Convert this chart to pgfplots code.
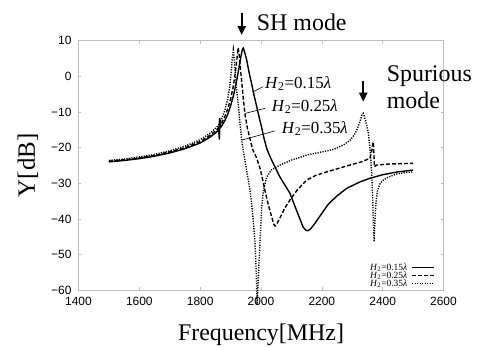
\documentclass[border=0pt]{standalone}
\usepackage{fontspec}
\setmainfont{Liberation Serif}
\setsansfont{Liberation Sans}
\usepackage{pgfplots}
\pgfplotsset{compat=1.18}
\usetikzlibrary{arrows.meta}
\definecolor{framegray}{RGB}{190,190,190}
\newcommand{\Hlab}[1]{\textit{H}\textsubscript{2}=#1\textit{λ}}
\begin{document}
\begin{tikzpicture}
\useasboundingbox (-78.5bp,-56.8bp) rectangle (399.5bp,290.2bp);
\begin{axis}[
  at={(0,0)}, anchor=south west,
  scale only axis, width=365bp, height=249.5bp,
  xmin=1400, xmax=2600, ymin=-60, ymax=10,
  xtick={1400,1600,1800,2000,2200,2400,2600},
  xticklabels={1400,1600,1800,2000,2200,2400,2600},
  ytick={-60,-50,-40,-30,-20,-10,0,10},
  yticklabels={−60,−50,−40,−30,−20,−10,0,10},
  tick align=inside,
  major tick length=3bp,
  tick style={framegray, line width=0.6bp},
  axis line style={framegray, line width=0.8bp},
  ticklabel style={font=\sffamily\fontsize{12}{12}\selectfont, text=black},
  xticklabel style={anchor=north, inner sep=0pt, yshift=-6.8bp},
  yticklabel style={anchor=east, inner sep=0pt, xshift=-6.8bp},
  clip=false,
  legend style={at={(rel axis cs:1,0)}, anchor=south east, xshift=-9bp, yshift=2bp,
    draw=none, fill=none, inner sep=0pt, row sep=-1.2bp,
    font=\fontsize{9.5}{10}\selectfont,
    nodes={inner xsep=4bp, inner ysep=0.5bp}},
  legend plot pos=right,
  legend cell align=right,
  legend image code/.code={\draw[#1] (0bp,0bp) -- (21.6bp,0bp);},
]
% H2 = 0.15 lambda (solid)
\addplot[black, line width=1.4bp, line join=round] coordinates {
(1500,-24.0) (1550,-23.6) (1600,-23.1) (1650,-22.4) (1700,-21.5) (1750,-20.3)
(1800,-18.7) (1830,-17.2) (1850,-15.9) (1860,-15.1)
(1862,-14.8) (1863,-17.6) (1864,-12.4) (1865.5,-14.5)
(1870,-14.0) (1880,-12.6) (1890,-10.8) (1900,-8.3) (1910,-5.2) (1920,-1.2)
(1928,2.6) (1934,5.6) (1939,7.6) (1942,8.0) (1947,6.5) (1953,4.6) (1961,1.0)
(1969,-2.0) (1977,-5.3) (1986,-8.5) (1994,-11.5) (2002,-14.3) (2010,-17.4)
(2019,-20.3) (2027,-22.0) (2035,-23.5) (2062,-28.2) (2095,-32.8) (2120,-38.3)
(2139,-42.4) (2148,-43.2) (2155,-43.3) (2163,-42.8) (2175,-41.5) (2194,-39.2)
(2220,-36.0) (2249,-33.6) (2282,-31.4) (2326,-29.6) (2358,-28.6) (2400,-27.6)
(2450,-26.8) (2500,-26.3)
};
\addlegendentry{\Hlab{0.15}}
% H2 = 0.25 lambda (dashed)
\addplot[black, line width=1.4bp, dash pattern=on 4bp off 2bp] coordinates {
(1500,-23.8) (1550,-23.4) (1600,-22.9) (1650,-22.2) (1700,-21.2) (1750,-20.0)
(1800,-18.3) (1830,-16.7) (1850,-15.3) (1860,-14.5)
(1862,-14.2) (1863,-17.2) (1864,-12.1) (1865.5,-13.9)
(1870,-13.2) (1880,-11.5) (1890,-9.3) (1900,-6.4) (1908,-3.2) (1915,0.6)
(1920,4.2) (1923,6.6) (1925,8.0) (1929,5.5) (1933,1.5) (1936,-1.0) (1941,-5.5)
(1947,-10.4) (1955,-14.4) (1964,-17.6) (1972,-20.4) (1985,-22.8) (1997,-25.8)
(2005,-28.8) (2013,-32.0) (2024,-36.0) (2035,-39.4) (2042,-41.5) (2046,-42.0)
(2052,-41.4) (2062,-39.8) (2078,-37.0) (2095,-34.7) (2120,-31.8) (2150,-29.1)
(2180,-27.8) (2216,-26.8) (2260,-25.7) (2292,-24.9) (2330,-24.0) (2358,-23.0)
(2364,-21.0) (2368,-18.4) (2370,-19.5) (2373,-25.4) (2380,-24.9) (2420,-24.6)
(2500,-24.4)
};
\addlegendentry{\Hlab{0.25}}
% H2 = 0.35 lambda (dotted)
\addplot[black, line width=1.4bp, dash pattern=on 1.2bp off 1.3bp] coordinates {
(1500,-23.6) (1550,-23.2) (1600,-22.6) (1650,-21.9) (1700,-20.9) (1750,-19.6)
(1800,-17.8) (1830,-16.1) (1850,-14.6) (1860,-13.8)
(1862,-13.5) (1863,-16.6) (1864,-11.6) (1865.5,-13.2)
(1870,-12.1) (1880,-9.8) (1890,-6.6) (1897,-3.0) (1902,1.0) (1905,4.5)
(1909,7.4) (1913,4.0) (1920,-3.8) (1926,-8.5) (1931,-13.2) (1938,-19.0)
(1950,-25.0) (1964,-32.0) (1972,-38.0) (1980,-46.0) (1984,-54.0) (1987,-64.0)
(1992,-55.0) (1997,-46.0) (2002,-37.0) (2008,-32.0) (2019,-28.2) (2035,-26.2)
(2062,-24.9) (2100,-23.5) (2150,-22.1) (2200,-21.2) (2238,-20.5) (2270,-19.3)
(2292,-18.0) (2305,-16.6) (2315,-15.1) (2325,-12.8) (2331,-11.0) (2336,-10.4)
(2341,-11.5) (2347,-13.5) (2353,-16.0) (2359,-21.0) (2364,-27.2) (2367,-33.5)
(2369,-39.4) (2372,-46.4) (2375,-40.0) (2378,-35.5) (2383,-32.0) (2392,-30.0)
(2402,-29.1) (2420,-28.2) (2446,-27.4) (2475,-27.0) (2501,-26.8)
};
\addlegendentry{\Hlab{0.35}}
% leader lines and curve labels
\draw[black, line width=0.6bp] (axis cs:1975,-4.3) -- (axis cs:2007,-2.9);
\draw[black, line width=0.6bp] (axis cs:1947,-10.4) -- (axis cs:2013,-9.0);
\draw[black, line width=0.6bp] (axis cs:1936,-17.9) -- (axis cs:2046,-15.3);
\node[anchor=west, inner sep=0pt, font=\fontsize{17}{17}\selectfont] at (axis cs:2013,-2.0) {\Hlab{0.15}};
\node[anchor=west, inner sep=0pt, font=\fontsize{17}{17}\selectfont] at (axis cs:2035,-8.5) {\Hlab{0.25}};
\node[anchor=west, inner sep=0pt, font=\fontsize{17}{17}\selectfont] at (axis cs:2068,-14.6) {\Hlab{0.35}};
% mode annotations
\draw[black, line width=2.2bp, -{Triangle[width=8bp,length=9bp]}] (axis cs:1936.5,17.9) -- (axis cs:1936.5,11.6);
\node[anchor=base west, inner sep=0pt, font=\fontsize{24}{24}\selectfont] at (axis cs:1986,13.0) {SH mode};
\draw[black, line width=2.2bp, -{Triangle[width=8bp,length=9bp]}] (axis cs:2336,-1.3) -- (axis cs:2336,-7.1);
\node[anchor=base west, inner sep=0pt, font=\fontsize{24}{24}\selectfont] at (axis cs:2413,-1.5) {Spurious};
\node[anchor=base west, inner sep=0pt, font=\fontsize{24}{24}\selectfont] at (axis cs:2413,-9.0) {mode};
% axis labels
\node[anchor=base, inner sep=0pt, font=\fontsize{24}{24}\selectfont] at ([yshift=-50bp]rel axis cs:0.5,0) {Frequency[MHz]};
\node[anchor=base, rotate=90, inner sep=0pt, font=\fontsize{25}{25}\selectfont] at ([xshift=-43.5bp]rel axis cs:0,0.5) {Y[dB]};
\end{axis}
\end{tikzpicture}
\end{document}
